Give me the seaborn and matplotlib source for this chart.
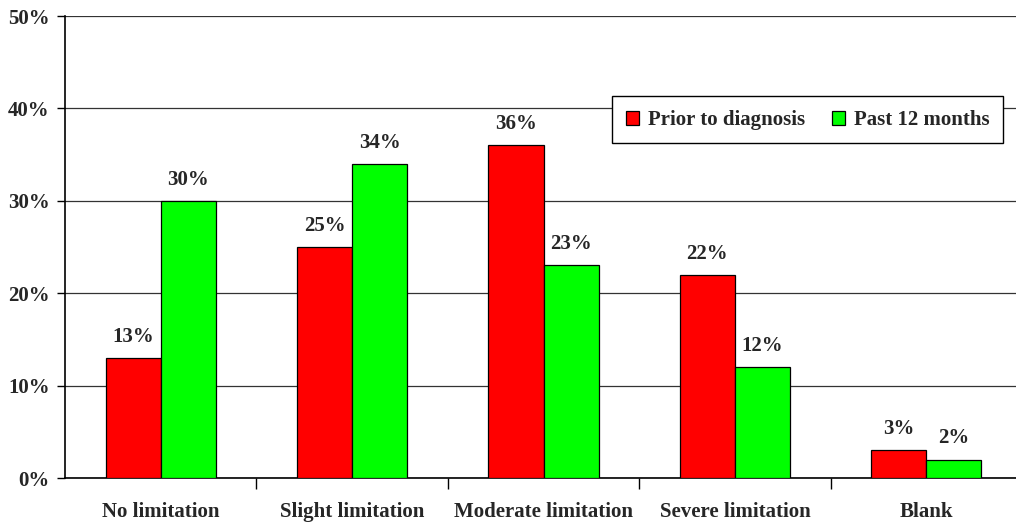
import matplotlib
matplotlib.use("Agg")
import matplotlib.pyplot as plt
import matplotlib.ticker as mticker
import numpy as np
import pandas as pd
import seaborn as sns

categories = ["No limitation", "Slight limitation", "Moderate limitation",
              "Severe limitation", "Blank"]
prior = [13, 25, 36, 22, 3]
past12 = [30, 34, 23, 12, 2]
series_names = ["Prior to diagnosis", "Past 12 months"]
y_ticks = [0, 10, 20, 30, 40, 50]

df = pd.DataFrame({
    "category": categories * 2,
    "value": prior + past12,
    "series": [series_names[0]] * len(categories) + [series_names[1]] * len(categories),
})

sns.set_theme(style="white")
plt.rcParams["font.family"] = ["Liberation Serif", "DejaVu Serif"]
plt.rcParams["font.weight"] = "bold"

FS = 15

fig = plt.figure(figsize=(10.16, 5.25), dpi=100)
ax = fig.add_axes([65 / 1016, 47 / 525, 957 / 1016, 462 / 525])

sns.barplot(data=df, x="category", y="value", hue="series", order=categories,
            hue_order=series_names, palette=["#ff0000", "#00ff00"],
            edgecolor="black", linewidth=0.9, width=0.575, gap=0,
            saturation=1, ax=ax, zorder=3)

ax.set_xlim(-0.5, len(categories) - 0.5)
ax.set_ylim(0, 50)
ax.set_yticks(y_ticks)
ax.yaxis.set_major_formatter(mticker.FuncFormatter(lambda v, p: f"{v:.0f}%"))
ax.grid(axis="y", color="#333333", linewidth=0.9, zorder=0)
ax.set_axisbelow(True)

# category boundaries carry the tick marks, labels sit at the centres
ax.set_xticks(np.arange(len(categories) - 1) + 0.5)
ax.set_xticklabels([])
ax.set_xticks(np.arange(len(categories)), minor=True)
ax.set_xticklabels(categories, minor=True, fontsize=FS, fontweight="bold")
ax.tick_params(axis="x", which="major", direction="out", length=8, width=1,
               color="black", bottom=True)
ax.tick_params(axis="x", which="minor", length=0, pad=17)
ax.tick_params(axis="y", direction="out", length=6, width=1, color="black",
               left=True, labelsize=FS, pad=5)
for lab in ax.get_yticklabels():
    lab.set_fontweight("bold")

ax.set_xlabel("")
ax.set_ylabel("")
for side in ["top", "right"]:
    ax.spines[side].set_visible(False)
for side in ["left", "bottom"]:
    ax.spines[side].set_color("black")
    ax.spines[side].set_linewidth(1.2)

for container in ax.containers:
    ax.bar_label(container, labels=[f"{v:.0f}%" for v in container.datavalues],
                 padding=8, fontsize=FS, fontweight="bold")

leg = ax.legend(loc="upper right", bbox_to_anchor=(0.980, 0.826), ncol=2,
                frameon=True, fancybox=False, shadow=False,
                handlelength=0.65, handleheight=0.65, handletextpad=0.4,
                columnspacing=1.3, borderpad=0.65, borderaxespad=0,
                prop={"weight": "bold", "size": FS})
leg.get_frame().set_edgecolor("black")
leg.get_frame().set_linewidth(1.0)
leg.get_frame().set_alpha(1)

fig.savefig("out.png", dpi=100)
